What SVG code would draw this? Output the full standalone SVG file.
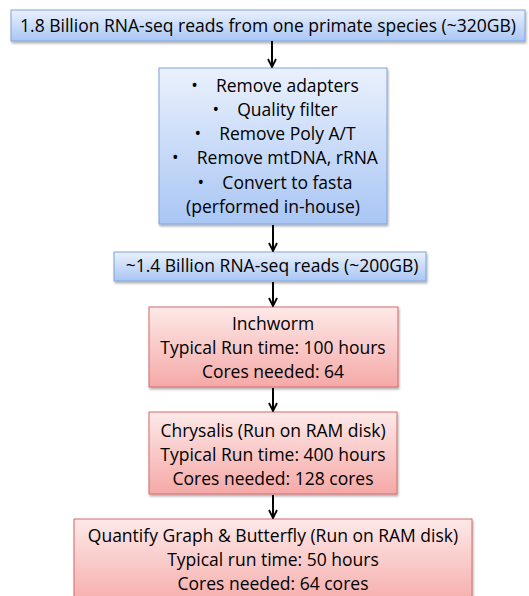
<svg xmlns="http://www.w3.org/2000/svg" width="529" height="596" viewBox="0 0 529 596">
  <defs>
    <linearGradient id="gBlue" x1="0" y1="0" x2="0" y2="1">
      <stop offset="0" stop-color="#eaf1fd"/>
      <stop offset="1" stop-color="#a9c6f4"/>
    </linearGradient>
    <linearGradient id="gRed" x1="0" y1="0" x2="0" y2="1">
      <stop offset="0" stop-color="#fde9e8"/>
      <stop offset="1" stop-color="#f5a9a7"/>
    </linearGradient>
    <filter id="shadow" x="-5%" y="-5%" width="110%" height="120%">
      <feDropShadow dx="1" dy="2" stdDeviation="1.2" flood-color="#000" flood-opacity="0.3"/>
    </filter>
    <marker id="arrow" viewBox="0 0 10 10" refX="9" refY="5" markerWidth="10" markerHeight="10" markerUnits="userSpaceOnUse" orient="auto">
      <path d="M1,1 L9,5 L1,9" fill="none" stroke="#000" stroke-width="1.8"/>
    </marker>
  </defs>
  <style>
    .blue { fill: url(#gBlue); stroke: #7fa4dc; stroke-width: 1; filter: url(#shadow); }
    .red { fill: url(#gRed); stroke: #d46a68; stroke-width: 1; filter: url(#shadow); }
    text { font-family: "Open Sans", "Liberation Sans", sans-serif; font-size: 17.5px; fill: #000; text-anchor: middle; white-space: pre; }
    .conn line { stroke: #000; stroke-width: 2; marker-end: url(#arrow); }
  </style>
  <rect width="529" height="596" fill="#fff"/>

  <g id="raw-reads">
    <rect class="blue" x="11" y="10" width="514" height="31"/>
    <text x="268" y="32">1.8 Billion RNA-seq reads from one primate species (~320GB)</text>
  </g>

  <g id="preprocess">
    <rect class="blue" x="159" y="68" width="228" height="156"/>
    <text x="275" y="92">•&#160;&#160;&#160;&#160;Remove adapters</text>
    <text x="275" y="116">•&#160;&#160;&#160;&#160;Quality filter</text>
    <text x="275" y="140">•&#160;&#160;&#160;&#160;Remove Poly A/T</text>
    <text x="275" y="164">•&#160;&#160;&#160;&#160;Remove mtDNA, rRNA</text>
    <text x="275" y="189">•&#160;&#160;&#160;&#160;Convert to fasta</text>
    <text x="273" y="213">(performed in-house)</text>
  </g>

  <g id="clean-reads">
    <rect class="blue" x="114" y="252" width="312" height="29"/>
    <text x="272" y="272">~1.4 Billion RNA-seq reads (~200GB)</text>
  </g>

  <g id="inchworm">
    <rect class="red" x="149" y="307" width="249" height="80"/>
    <text x="273" y="330">Inchworm</text>
    <text x="273" y="354">Typical Run time: 100 hours</text>
    <text x="273" y="378">Cores needed: 64</text>
  </g>

  <g id="chrysalis">
    <rect class="red" x="149" y="412" width="248" height="82"/>
    <text x="273" y="437">Chrysalis (Run on RAM disk)</text>
    <text x="273" y="461">Typical Run time: 400 hours</text>
    <text x="273" y="485">Cores needed: 128 cores</text>
  </g>

  <g id="butterfly">
    <rect class="red" x="74" y="519" width="398" height="90"/>
    <text x="273" y="542">Quantify Graph &amp; Butterfly (Run on RAM disk)</text>
    <text x="273" y="566">Typical run time: 50 hours</text>
    <text x="273" y="590">Cores needed: 64 cores</text>
  </g>

  <g class="conn">
    <line x1="272" y1="41" x2="272" y2="67"/>
    <line x1="273" y1="225" x2="273" y2="251"/>
    <line x1="273" y1="282" x2="273" y2="306"/>
    <line x1="273" y1="388" x2="273" y2="411"/>
    <line x1="273" y1="495" x2="273" y2="518"/>
  </g>
</svg>
